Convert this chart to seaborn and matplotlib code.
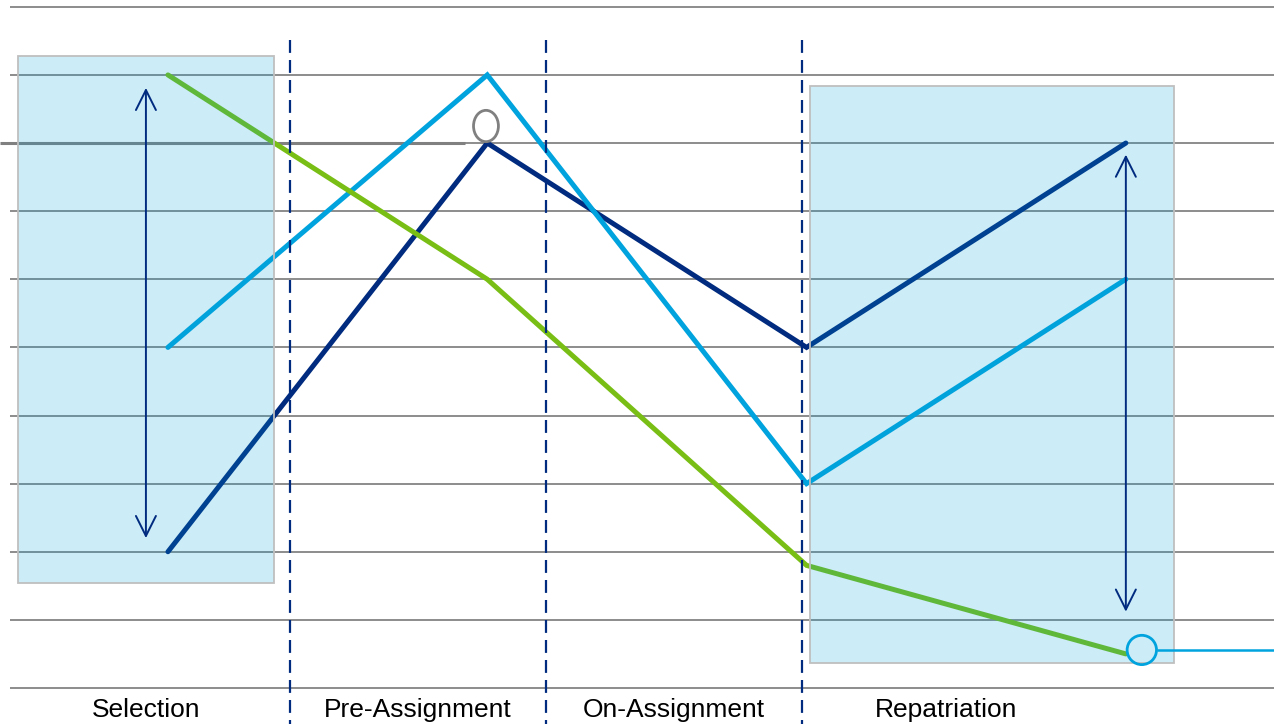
import numpy as np
import pandas as pd
import matplotlib
matplotlib.use("Agg")
import matplotlib.pyplot as plt
from matplotlib.patches import Rectangle, Ellipse
import seaborn as sns

# Stages of the assignment cycle
stages = ["Selection", "Pre-Assignment", "On-Assignment", "Repatriation"]
stage_pos = [0, 1, 2, 3]

# Curve values per stage
navy_values = [2.0, 8.0, 5.0, 8.0]
sky_values = [5.0, 9.0, 3.0, 6.0]
green_values = [9.0, 6.0, 1.8, 0.5]

series_names = ["navy", "sky", "green"]
series_colors = {"navy": "#002B7F", "sky": "#00A3DD", "green": "#78BE14"}

grid_levels = list(range(0, 11))

df = pd.DataFrame({
    "stage": stage_pos * 3,
    "value": navy_values + sky_values + green_values,
    "series": ["navy"] * 4 + ["sky"] * 4 + ["green"] * 4,
})

sns.set_theme(style="white")
plt.rcParams["font.family"] = ["Liberation Sans", "DejaVu Sans"]

fig = plt.figure(figsize=(12.74, 7.24), dpi=100)
ax = fig.add_axes([0, 0, 1, 1])
x_min, x_max = -0.526, 3.464
y_min, y_max = -0.529, 10.10
ax.set_xlim(x_min, x_max)
ax.set_ylim(y_min, y_max)
ax.axis("off")

# Horizontal grid
ax.hlines(grid_levels, -0.495, x_max, color="#8C8C8C", lw=1.4, zorder=1)
# Emphasised reference level on the left
ax.hlines(8, x_min, 0.93, color="#808080", lw=2.2, zorder=1.5)

# Stage curves
sns.lineplot(data=df, x="stage", y="value", hue="series", hue_order=series_names,
             palette=series_colors, lw=3.6, legend=False, ax=ax, zorder=3,
             solid_capstyle="round", solid_joinstyle="miter")

# Shaded stage panels
for (x0, x1, y0, y1) in [(-0.470, 0.332, 1.54, 9.28), (2.011, 3.151, 0.367, 8.84)]:
    ax.add_patch(Rectangle((x0, y0), x1 - x0, y1 - y0, facecolor="#00A0DC",
                           alpha=0.2, edgecolor="none", zorder=4))
    ax.add_patch(Rectangle((x0, y0), x1 - x0, y1 - y0, facecolor="none",
                           edgecolor="#BFBFBF", lw=1.3, zorder=4.1))

# Stage separators
for xs in [0.382, 1.184, 1.986]:
    ax.plot([xs, xs], [9.515, y_min], color="#002B7F", lw=1.6,
            dashes=(5.8, 3.2), zorder=5)

# Range arrows
for (xa, ya0, ya1) in [(-0.069, 8.81, 2.20), (3.0, 7.83, 1.12)]:
    ax.annotate("", xy=(xa, ya0), xytext=(xa, ya1),
                arrowprops=dict(arrowstyle="<->,head_length=1.2,head_width=0.6",
                                color="#002B7F", lw=1.4, shrinkA=0, shrinkB=0),
                zorder=6)

# Markers
ax.add_patch(Ellipse((0.996, 8.25), 0.078, 0.46, facecolor="white",
                     edgecolor="#808080", lw=2.0, zorder=6))
ax.hlines(0.558, 3.097, x_max, color="#00A3DD", lw=1.8, zorder=6)
ax.add_patch(Ellipse((3.050, 0.558), 0.092, 0.43, facecolor="none",
                     edgecolor="#00A3DD", lw=2.0, zorder=6))

# Stage labels
for name, xl in zip(stages, [-0.069, 0.783, 1.585, 2.437]):
    ax.text(xl, -0.32, name, ha="center", va="center", fontsize=19,
            color="black", zorder=7)

fig.savefig("out.png", dpi=100)
